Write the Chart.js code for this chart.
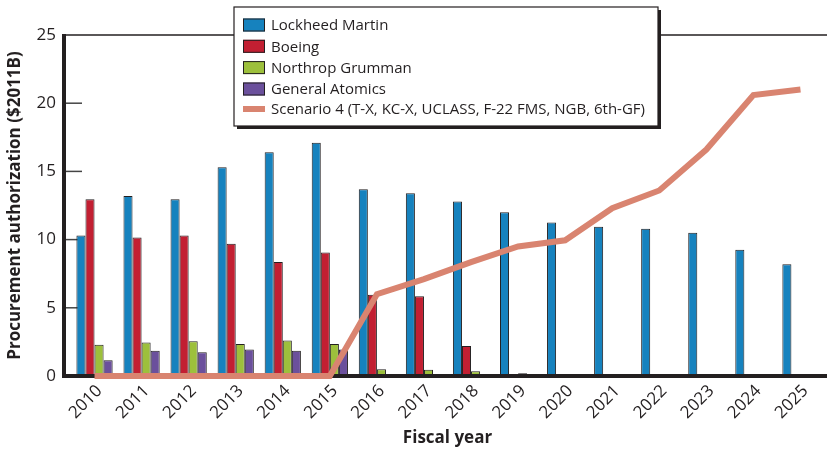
<!DOCTYPE html>
<html>
<head>
<meta charset="utf-8">
<script src="https://cdn.jsdelivr.net/npm/chart.js@4.4.1/dist/chart.umd.min.js"></script>
<style>
html, body { margin: 0; padding: 0; background: #fff; }
</style>
</head>
<body>
<canvas id="chart" width="827" height="452"></canvas>
<script>
// 数据
const years = ['2010', '2011', '2012', '2013', '2014', '2015', '2016', '2017',
               '2018', '2019', '2020', '2021', '2022', '2023', '2024', '2025'];
const lockheed   = [10.3, 13.2, 12.95, 15.3, 16.4, 17.1, 13.7, 13.4, 12.8, 12.0, 11.25, 10.95, 10.8, 10.5, 9.25, 8.2];
const boeing     = [12.95, 10.15, 10.3, 9.7, 8.35, 9.05, 5.95, 5.85, 2.2, 0, 0, 0, 0, 0, 0, 0];
const northrop   = [2.3, 2.45, 2.55, 2.35, 2.6, 2.35, 0.5, 0.45, 0.35, 0.2, 0.1, 0.1, 0.1, 0.1, 0.1, 0];
const genAtomics = [1.15, 1.85, 1.75, 1.95, 1.85, 1.95, 0, 0, 0, 0, 0, 0, 0, 0, 0, 0];
const scenario4  = [0, 0, 0, 0, 0, 0, 6.0, 7.1, 8.35, 9.5, 9.95, 12.3, 13.6, 16.6, 20.6, 21.0];
const yInnerTicks = [5, 10, 15, 20];

const FONT = '"Open Sans", "Noto Sans", sans-serif';
const INK = '#231f20';

function barSet(label, data, color) {
    return {
        type: 'bar',
        label: label,
        data: data,
        backgroundColor: color,
        borderColor: INK,
        borderWidth: 1,
        categoryPercentage: 0.77,
        barPercentage: 1,
        order: 1
    };
}

// 坐标轴和内侧刻度
const framePlugin = {
    id: 'frame',
    beforeDatasetsDraw(chart) {
        const { ctx, chartArea } = chart;
        const y = chart.scales.y;
        const ax = chartArea.left - 7;
        ctx.save();
        ctx.strokeStyle = '#444';
        ctx.lineWidth = 1.5;
        yInnerTicks.forEach(v => {
            const py = y.getPixelForValue(v);
            ctx.beginPath();
            ctx.moveTo(ax, py);
            ctx.lineTo(ax + 18, py);
            ctx.stroke();
        });
        ctx.restore();
    },
    afterDatasetDraw(chart, args) {
        if (args.index !== 0) return;
        const { ctx, chartArea } = chart;
        const ax = chartArea.left - 7;
        ctx.save();
        ctx.strokeStyle = INK;
        // 顶部细线
        ctx.lineWidth = 1.5;
        ctx.beginPath();
        ctx.moveTo(ax, chartArea.top);
        ctx.lineTo(chart.width, chartArea.top);
        ctx.stroke();
        // 左轴和底轴
        ctx.lineWidth = 4;
        ctx.beginPath();
        ctx.moveTo(ax, chartArea.top - 1);
        ctx.lineTo(ax, chartArea.bottom);
        ctx.lineTo(chart.width, chartArea.bottom);
        ctx.stroke();
        ctx.restore();
    }
};

// 图例框
const legendPlugin = {
    id: 'boxLegend',
    afterDraw(chart) {
        const { ctx } = chart;
        const bx = 234, by = 7, bw = 424, bh = 119;
        ctx.save();
        ctx.fillStyle = INK;
        ctx.fillRect(bx + 3, by + 3, bw, bh);
        ctx.fillStyle = '#fff';
        ctx.fillRect(bx, by, bw, bh);
        ctx.strokeStyle = INK;
        ctx.lineWidth = 1.2;
        ctx.strokeRect(bx, by, bw, bh);

        const rows = [25, 46.3, 67.6, 89, 109];
        ctx.font = '15px ' + FONT;
        ctx.textBaseline = 'middle';
        chart.data.datasets.forEach((ds, i) => {
            const cy = rows[i];
            if (ds.type === 'line') {
                ctx.fillStyle = ds.borderColor;
                ctx.fillRect(243, cy - 3, 22, 6);
            } else {
                ctx.fillStyle = ds.backgroundColor;
                ctx.fillRect(243, cy - 6.5, 22, 13);
                ctx.strokeStyle = INK;
                ctx.lineWidth = 1;
                ctx.strokeRect(243.5, cy - 6, 21, 12);
            }
            ctx.fillStyle = INK;
            ctx.fillText(ds.label, 271, cy + 1);
        });
        ctx.restore();
    }
};

new Chart(document.getElementById('chart').getContext('2d'), {
    data: {
        labels: years,
        datasets: [
            barSet('Lockheed Martin', lockheed, '#1682be'),
            barSet('Boeing', boeing, '#c21f32'),
            barSet('Northrop Grumman', northrop, '#9dc03c'),
            barSet('General Atomics', genAtomics, '#6b509c'),
            {
                type: 'line',
                label: 'Scenario 4 (T-X, KC-X, UCLASS, F-22 FMS, NGB, 6th-GF)',
                data: scenario4,
                borderColor: '#d98470',
                backgroundColor: '#d98470',
                borderWidth: 6,
                pointRadius: 0,
                tension: 0,
                fill: false,
                clip: false,
                order: 0
            }
        ]
    },
    options: {
        responsive: false,
        devicePixelRatio: 1,
        animation: false,
        layout: { padding: { top: 35, right: 3, left: 0, bottom: 0 } },
        plugins: {
            legend: { display: false },
            tooltip: { enabled: false }
        },
        scales: {
            x: {
                grid: { display: false, drawTicks: false },
                border: { display: false },
                ticks: {
                    font: { family: FONT, size: 17 },
                    color: INK,
                    minRotation: 45,
                    maxRotation: 45,
                    padding: 5,
                    labelOffset: 5
                },
                title: {
                    display: true,
                    text: 'Fiscal year',
                    font: { family: FONT, size: 17, weight: 'bold' },
                    color: INK,
                    padding: { top: 0, bottom: 4 }
                },
                afterFit: s => { s.height = 76; }
            },
            y: {
                min: 0,
                max: 25,
                grid: { display: false, drawTicks: false },
                border: { display: false },
                ticks: {
                    stepSize: 5,
                    font: { family: FONT, size: 17 },
                    color: INK,
                    padding: 15
                },
                title: {
                    display: true,
                    text: 'Procurement authorization ($2011B)',
                    font: { family: FONT, size: 17, weight: 'bold' },
                    color: INK,
                    padding: { top: 5, bottom: 0 }
                },
                afterFit: s => { s.width = 71; }
            }
        }
    },
    plugins: [framePlugin, legendPlugin]
});
</script>
</body>
</html>
